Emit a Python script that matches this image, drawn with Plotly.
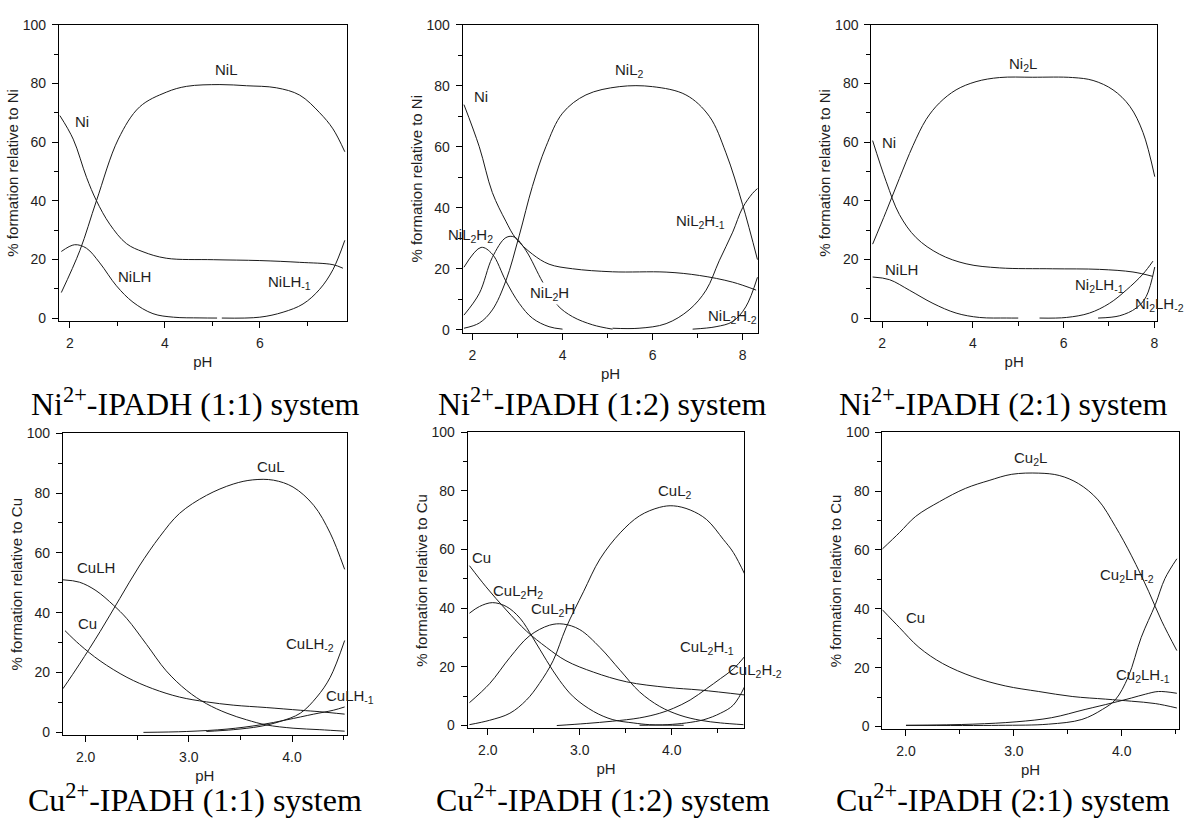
import plotly.graph_objects as go

# ---------------- data (pH, % formation) ----------------
# Panel 1: Ni2+-IPADH (1:1)
p1_NiL_ph = [1.82, 2.21, 2.56, 3.02, 3.47, 4.03, 4.46, 5.16, 5.72, 6.35, 6.84, 7.26, 7.54, 7.79]
p1_NiL = [8.7, 23, 40, 61, 72, 77, 79, 79.6, 79.2, 78.5, 76, 70, 64.5, 56.7]
p1_Ni_ph = [1.79, 2.07, 2.35, 2.56, 2.84, 3.19, 3.54, 4.03, 5.02, 6.0, 6.84, 7.54, 7.75]
p1_Ni = [69, 61, 48, 40, 32, 25.4, 22.6, 20.4, 19.9, 19.6, 19, 18.2, 17]
p1_NiLH_ph = [1.82, 2.1, 2.35, 2.63, 2.98, 3.33, 3.75, 4.18, 4.74, 5.1]
p1_NiLH = [22.7, 25, 23.8, 18.8, 11, 5.4, 1.5, 0.3, 0.05, 0]
p1_NiLHm1_ph = [5.2, 6.0, 6.49, 6.91, 7.26, 7.54, 7.79]
p1_NiLHm1 = [0, 0.3, 2, 4.8, 9.8, 16.5, 26.5]

# Panel 2: Ni2+-IPADH (1:2)
p2_NiL2_ph = [1.81, 2.15, 2.44, 2.74, 3.04, 3.33, 3.63, 4.0, 4.52, 5.26, 6.0, 6.74, 7.26, 7.63, 8.0, 8.33]
p2_NiL2 = [0.5, 2.2, 6.5, 16, 31, 47, 60, 71, 77, 79.7, 79.7, 77, 70, 58, 41, 23]
p2_Ni_ph = [1.81, 2.15, 2.44, 2.74, 2.96, 3.33, 3.7, 4.22, 5.11, 6.3, 7.04, 7.78, 8.3]
p2_Ni = [73.8, 60, 45, 35.6, 30, 24.8, 21.5, 20, 19, 18.9, 17.8, 15.6, 13]
p2_NiL2H2_ph = [1.81, 2.19, 2.44, 2.74, 3.04, 3.33, 3.7, 4.0]
p2_NiL2H2 = [20.5, 27, 24.8, 16, 8.6, 3.8, 1, 0.2]
p2_NiL2H_ph = [1.81, 2.15, 2.44, 2.74, 2.93, 3.19, 3.56, 3.89, 4.22, 4.67, 5.11]
p2_NiL2H = [4.8, 11.9, 23.7, 30.2, 30.4, 25.9, 15.6, 8, 4.3, 1.6, 0.2]
p2_NiL2Hm1_ph = [5.11, 5.7, 6.3, 6.81, 7.19, 7.48, 7.78, 8.0, 8.22, 8.33]
p2_NiL2Hm1 = [0.5, 0.5, 2, 6.5, 13, 22.6, 32, 40, 44.7, 46.3]
p2_NiL2Hm2_ph = [6.89, 7.41, 7.78, 8.07, 8.33]
p2_NiL2Hm2 = [0.2, 1, 2.7, 7.5, 17.2]

# Panel 3: Ni2+-IPADH (2:1)
p3_Ni2L_ph = [1.79, 2.09, 2.38, 2.68, 2.97, 3.26, 3.63, 4.07, 4.59, 5.32, 6.2, 6.65, 7.09, 7.46, 7.75, 8.01]
p3_Ni2L = [25.2, 36.4, 47.6, 58.8, 67.7, 73.3, 77.8, 80.6, 82, 82.1, 82, 81, 77.8, 72.2, 63.3, 48.2]
p3_Ni_ph = [1.79, 2.09, 2.38, 2.75, 3.26, 3.85, 4.59, 5.76, 6.79, 7.53, 7.97]
p3_Ni = [60.5, 46.5, 35.3, 27.4, 21.8, 18.5, 17.1, 16.8, 16.6, 15.7, 14.2]
p3_NiLH_ph = [1.79, 2.16, 2.6, 3.12, 3.63, 4.15, 4.74, 5.0]
p3_NiLH = [14, 13.1, 9.5, 5, 1.7, 0.2, 0.02, 0]
p3_Ni2LHm1_ph = [5.47, 6.06, 6.57, 7.01, 7.38, 7.75, 7.97]
p3_Ni2LHm1 = [0, 0.2, 1.7, 5, 9.5, 15, 19.4]
p3_Ni2LHm2_ph = [6.76, 7.24, 7.6, 7.82, 8.01]
p3_Ni2LHm2 = [0, 0.8, 3.4, 7.3, 17.4]

# Panel 4: Cu2+-IPADH (1:1)
p4_CuL_ph = [1.78, 1.94, 2.14, 2.33, 2.52, 2.72, 2.91, 3.17, 3.43, 3.62, 3.82, 4.01, 4.21, 4.37, 4.51]
p4_CuL = [14.6, 22.8, 33.7, 44.7, 55.6, 65.5, 73.2, 79.2, 83, 84.4, 84.3, 82, 75.9, 66.6, 54.5]
p4_CuLH_ph = [1.78, 1.94, 2.1, 2.27, 2.4, 2.59, 2.78, 2.98, 3.17, 3.37, 3.56, 3.75, 4.01, 4.27, 4.51]
p4_CuLH = [51, 50.2, 47.4, 42.5, 38, 29.4, 20.6, 14, 9.6, 6.4, 4.2, 2.5, 1.4, 0.9, 0.4]
p4_Cu_ph = [1.8, 1.94, 2.14, 2.4, 2.65, 2.91, 3.17, 3.43, 3.75, 4.08, 4.27, 4.51]
p4_Cu = [34, 29.4, 23.9, 18.4, 14.6, 11.8, 10.2, 9.1, 8.3, 7.4, 6.9, 6.1]
p4_CuLHm2_ph = [3.17, 3.43, 3.69, 3.88, 4.08, 4.24, 4.37, 4.51]
p4_CuLHm2 = [0.3, 0.9, 2, 3.6, 6.4, 11.8, 18.4, 30.7]
p4_CuLHm1_ph = [2.56, 2.98, 3.37, 3.69, 3.95, 4.21, 4.4, 4.51]
p4_CuLHm1 = [0, 0.3, 1.1, 2.5, 4.2, 6.1, 7.4, 8.5]

# Panel 5: Cu2+-IPADH (1:2)
p5_CuL2_ph = [1.8, 2.02, 2.24, 2.42, 2.56, 2.71, 2.85, 3.04, 3.22, 3.44, 3.65, 3.87, 4.02, 4.2, 4.38, 4.56, 4.67, 4.8]
p5_CuL2 = [0.3, 1.8, 4.2, 8.7, 14.3, 22.1, 33.3, 45.6, 56.8, 65.7, 71.5, 74.4, 74.9, 73.5, 70.2, 63.5, 59, 51.2]
p5_Cu_ph = [1.8, 1.98, 2.2, 2.42, 2.64, 2.85, 3.15, 3.51, 3.95, 4.31, 4.8]
p5_Cu = [54.5, 47.3, 39.4, 32.2, 26.6, 22.1, 18.2, 14.9, 13, 12.1, 10.4]
p5_CuL2H2_ph = [1.8, 1.91, 2.05, 2.2, 2.35, 2.49, 2.64, 2.78, 2.93, 3.15, 3.36, 3.58, 3.76, 4.13]
p5_CuL2H2 = [38.3, 40.6, 41.9, 40.6, 36.6, 29.9, 22.1, 15.4, 9.8, 4.8, 2, 0.9, 0.3, 0.1]
p5_CuL2H_ph = [1.8, 2.02, 2.24, 2.45, 2.67, 2.82, 3.0, 3.22, 3.44, 3.65, 3.87, 4.09, 4.31, 4.53, 4.78]
p5_CuL2H = [7.8, 14.3, 23.2, 30.5, 34.2, 34.6, 32.7, 26.6, 18.8, 11.5, 6.5, 3.5, 1.8, 0.9, 0.3]
p5_CuL2Hm1_ph = [2.75, 3.07, 3.36, 3.65, 3.87, 4.02, 4.2, 4.38, 4.53, 4.67, 4.8]
p5_CuL2Hm1 = [0, 0.7, 1.5, 2.6, 4.2, 5.9, 8.7, 12.6, 16, 19.3, 23.8]
p5_CuL2Hm2_ph = [3.65, 3.95, 4.16, 4.35, 4.53, 4.67, 4.8]
p5_CuL2Hm2 = [0.1, 0.3, 0.9, 2, 4.2, 7, 13.7]

# Panel 6: Cu2+-IPADH (2:1)
p6_Cu2L_ph = [1.78, 1.94, 2.09, 2.31, 2.55, 2.77, 2.98, 3.23, 3.42, 3.6, 3.78, 3.94, 4.09, 4.25, 4.37, 4.51]
p6_Cu2L = [60.3, 65.9, 71.4, 76.4, 80.9, 83.6, 85.7, 86.1, 85.3, 82.5, 77, 68, 58, 45.8, 35.8, 25.8]
p6_Cu_ph = [1.78, 1.94, 2.12, 2.34, 2.62, 2.92, 3.23, 3.54, 3.85, 4.09, 4.31, 4.51]
p6_Cu = [39.7, 33.6, 26.9, 21.4, 16.9, 13.8, 11.9, 10.2, 9.3, 8.6, 7.8, 6.3]
p6_Cu2LHm2_ph = [2.0, 2.86, 3.32, 3.63, 3.82, 3.94, 4.06, 4.18, 4.31, 4.4, 4.51]
p6_Cu2LHm2 = [0.4, 0.4, 0.8, 2.4, 5.8, 9.1, 16.9, 30.3, 41.4, 50.3, 57]
p6_Cu2LHm1_ph = [2.0, 2.62, 3.02, 3.35, 3.66, 3.91, 4.09, 4.22, 4.34, 4.51]
p6_Cu2LHm1 = [0.4, 0.8, 1.6, 3, 5.8, 8, 9.7, 11, 11.9, 11.3]

# species label texts and positions (pH, %)
p1_labels = [("NiL", 5.3, 84.6), ("Ni", 2.25, 67), ("NiLH", 3.37, 14), ("NiLH<sub>-1</sub>", 6.63, 12)]
p2_labels = [("NiL<sub>2</sub>", 5.48, 85), ("Ni", 2.19, 76.5), ("NiL<sub>2</sub>H<sub>2</sub>", 1.96, 31),
             ("NiL<sub>2</sub>H", 3.7, 11.9), ("NiL<sub>2</sub>H<sub>-1</sub>", 7.07, 35.6),
             ("NiL<sub>2</sub>H<sub>-2</sub>", 7.78, 4.3)]
p3_labels = [("Ni<sub>2</sub>L", 5.1, 86.6), ("Ni", 2.16, 60), ("NiLH", 2.42, 16.6),
             ("Ni<sub>2</sub>LH<sub>-1</sub>", 6.79, 11.2), ("Ni<sub>2</sub>LH<sub>-2</sub>", 8.12, 4.5)]
p4_labels = [("CuL", 3.8, 88.8), ("CuLH", 2.1, 55), ("Cu", 2.02, 36.5),
             ("CuLH<sub>-2</sub>", 4.17, 29.4), ("CuLH<sub>-1</sub>", 4.56, 12)]
p5_labels = [("CuL<sub>2</sub>", 4.04, 79.7), ("Cu", 1.93, 57.3), ("CuL<sub>2</sub>H<sub>2</sub>", 2.33, 45.6),
             ("CuL<sub>2</sub>H", 2.71, 39.4), ("CuL<sub>2</sub>H<sub>-1</sub>", 4.38, 26.6),
             ("CuL<sub>2</sub>H<sub>-2</sub>", 4.91, 18.8)]
p6_labels = [("Cu<sub>2</sub>L", 3.15, 91.2), ("Cu", 2.09, 36.9), ("Cu<sub>2</sub>LH<sub>-2</sub>", 4.05, 51.4),
             ("Cu<sub>2</sub>LH<sub>-1</sub>", 4.2, 17.5)]
masked_labels = {"NiL<sub>2</sub>H"}  # labels that interrupt the curve drawn through them

captions = ["Ni<sup>2+</sup>-IPADH (1:1) system", "Ni<sup>2+</sup>-IPADH (1:2) system",
            "Ni<sup>2+</sup>-IPADH (2:1) system", "Cu<sup>2+</sup>-IPADH (1:1) system",
            "Cu<sup>2+</sup>-IPADH (1:2) system", "Cu<sup>2+</sup>-IPADH (2:1) system"]
y_titles = ["% formation relative to Ni"] * 3 + ["% formation relative to Cu"] * 3

curves = [
    [(p1_NiL_ph, p1_NiL), (p1_Ni_ph, p1_Ni), (p1_NiLH_ph, p1_NiLH), (p1_NiLHm1_ph, p1_NiLHm1)],
    [(p2_NiL2_ph, p2_NiL2), (p2_Ni_ph, p2_Ni), (p2_NiL2H2_ph, p2_NiL2H2), (p2_NiL2H_ph, p2_NiL2H),
     (p2_NiL2Hm1_ph, p2_NiL2Hm1), (p2_NiL2Hm2_ph, p2_NiL2Hm2)],
    [(p3_Ni2L_ph, p3_Ni2L), (p3_Ni_ph, p3_Ni), (p3_NiLH_ph, p3_NiLH), (p3_Ni2LHm1_ph, p3_Ni2LHm1),
     (p3_Ni2LHm2_ph, p3_Ni2LHm2)],
    [(p4_CuL_ph, p4_CuL), (p4_CuLH_ph, p4_CuLH), (p4_Cu_ph, p4_Cu), (p4_CuLHm2_ph, p4_CuLHm2),
     (p4_CuLHm1_ph, p4_CuLHm1)],
    [(p5_CuL2_ph, p5_CuL2), (p5_Cu_ph, p5_Cu), (p5_CuL2H2_ph, p5_CuL2H2), (p5_CuL2H_ph, p5_CuL2H),
     (p5_CuL2Hm1_ph, p5_CuL2Hm1), (p5_CuL2Hm2_ph, p5_CuL2Hm2)],
    [(p6_Cu2L_ph, p6_Cu2L), (p6_Cu_ph, p6_Cu), (p6_Cu2LHm2_ph, p6_Cu2LHm2), (p6_Cu2LHm1_ph, p6_Cu2LHm1)],
]
labels = [p1_labels, p2_labels, p3_labels, p4_labels, p5_labels, p6_labels]

# ---------------- layout geometry (pixels) ----------------
W, H = 1187, 826
boxes = [(59, 347, 17, 318), (463, 759, 17, 330), (872, 1158, 17, 318),
         (63, 347, 432, 739), (468, 745, 431, 732), (883, 1180, 431, 733)]
xranges = [(1.77, 7.83), (1.78, 8.35), (1.76, 8.06), (1.78, 4.53), (1.78, 4.79), (1.78, 4.53)]
caption_pos = [(196, 400), (603, 400), (1004, 400), (195, 803), (604, 803), (1004, 803)]

FONT = "Arial, Liberation Sans, sans-serif"
TXT = "#1e1e1e"

fig = go.Figure()
layout = dict(width=W, height=H, margin=dict(l=0, r=0, t=0, b=0),
              paper_bgcolor="white", plot_bgcolor="white", showlegend=False,
              font=dict(family=FONT, size=14, color=TXT))
annotations = []

for i in range(6):
    k = "" if i == 0 else str(i + 1)
    xa, ya = "x" + k, "y" + k
    l, r, t, b = boxes[i]
    top_row = i < 3
    xmin, xmax = xranges[i]
    layout["xaxis" + k] = dict(
        domain=[l / W, r / W], anchor=ya, range=[xmin, xmax],
        showline=True, mirror=True, linecolor="black", linewidth=1,
        ticks="outside", ticklen=6, tickcolor="black", showgrid=False, zeroline=False,
        dtick=2 if top_row else 1, tick0=0, tickformat="d" if top_row else ".1f",
        minor=dict(ticks="outside", ticklen=4, tickcolor="black", dtick=1 if top_row else 0.5, tick0=0),
        tickfont=dict(size=14, color=TXT), ticklabelstandoff=3,
        title=dict(text="pH", font=dict(size=15, color=TXT), standoff=6),
    )
    layout["yaxis" + k] = dict(
        domain=[1 - b / H, 1 - t / H], anchor=xa, range=[-1, 100],
        showline=True, mirror=True, linecolor="black", linewidth=1,
        ticks="outside", ticklen=6, tickcolor="black", showgrid=False, zeroline=False,
        dtick=20, tick0=0,
        minor=dict(ticks="outside", ticklen=4, tickcolor="black", dtick=10, tick0=0),
        tickfont=dict(size=14, color=TXT), ticklabelstandoff=3,
        title=dict(text=y_titles[i], font=dict(size=15, color=TXT), standoff=0),
    )
    for (xs, ys) in curves[i]:
        fig.add_trace(go.Scatter(x=xs, y=ys, mode="lines", xaxis=xa, yaxis=ya,
                                 line=dict(color="#1a1a1a", width=1, shape="spline", smoothing=1.0),
                                 hoverinfo="skip"))
    px_per_unit = (r - l) / (xmax - xmin)
    for (txt, lx, ly) in labels[i]:
        shift = 0
        ax = lx
        if lx > xmax:  # label drawn partly outside the frame
            shift = (lx - xmax) * px_per_unit
            ax = xmax
        ann = dict(text=txt, x=ax, y=ly, xref=xa, yref=ya, xshift=shift, showarrow=False,
                   font=dict(size=15, color=TXT, family=FONT))
        if txt in masked_labels and i == 1:
            ann.update(bgcolor="white", borderpad=1)
        annotations.append(ann)
    cx, cy = caption_pos[i]
    annotations.append(dict(text=captions[i], x=cx / W, y=1 - cy / H, xref="paper", yref="paper",
                            showarrow=False, xanchor="center", yanchor="middle",
                            font=dict(size=32, color="black", family="Liberation Serif, Times New Roman, serif")))

layout["annotations"] = annotations
fig.update_layout(**layout)
fig.write_html("out.html", config={"displayModeBar": False},
               post_script="document.body.style.margin='0';")
